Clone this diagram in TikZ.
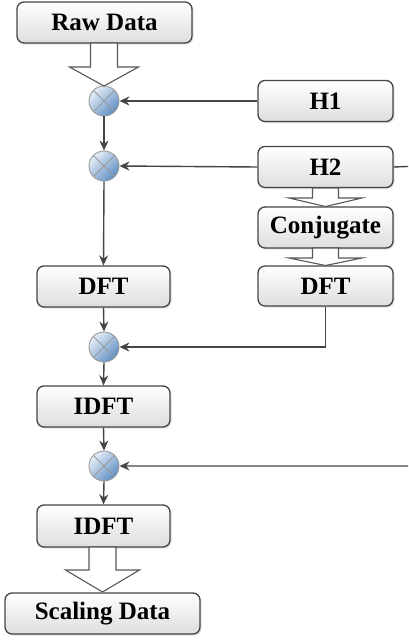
\documentclass[tikz,border=0pt]{standalone}
\usepackage{fontspec}
\setmainfont{Liberation Serif}
\usetikzlibrary{arrows.meta,shadows,calc}
\definecolor{edge}{HTML}{454545}
\definecolor{boxtop}{HTML}{FFFFFF}
\definecolor{boxbot}{HTML}{DEDEDE}
\definecolor{bluedark}{HTML}{5F8FC4}
\definecolor{bluelight}{HTML}{E6EEF7}
\tikzset{
  box/.style={draw=edge, line width=1.3pt, rounded corners=7pt,
    top color=boxtop, bottom color=boxbot,
    drop shadow={opacity=0.25, shadow xshift=1.5pt, shadow yshift=-1.5pt},
    inner sep=0pt, minimum height=41pt,
    font=\fontsize{25}{28}\selectfont\bfseries},
  mult/.style={circle, draw=edge!55, line width=0.9pt, minimum size=30pt, inner sep=0pt,
    shading=axis, left color=bluelight, right color=bluedark, shading angle=45},
  conn/.style={draw=edge, line width=1.4pt},
  arr/.style={conn, -{Stealth[length=10pt,width=9pt]}},
  blockarrow/.style={draw=edge!90, line width=1.1pt, fill=white, line join=miter},
}
\begin{document}
\begin{tikzpicture}[x=1pt,y=-1pt]
\path[use as bounding box] (0,0) rectangle (408,640);
\clip (0,0) rectangle (408,640);
% boxes
\node[box, minimum width=175pt] (raw) at (104.5,22.5) {Raw Data};
\node[box, minimum width=135pt] (h1) at (325.5,101) {H1};
\node[box, minimum width=135pt] (h2) at (325.5,167) {H2};
\node[box, minimum width=135pt] (conj) at (325.5,227.5) {Conjugate};
\node[box, minimum width=135pt, minimum height=40pt] (dftb) at (325.5,286) {DFT};
\node[box, minimum width=133pt] (dfta) at (103.5,286.5) {DFT};
\node[box, minimum width=133pt] (idfta) at (103.5,406.5) {IDFT};
\node[box, minimum width=133pt, minimum height=42pt] (idftb) at (103.5,526) {IDFT};
\node[box, minimum width=195pt] (scal) at (102.5,613.5) {Scaling Data};
% multipliers
\foreach \n/\y in {ma/101, mb/166, mc/347, md/466}{
  \node[mult] (\n) at (104,\y) {};
  \draw[edge!55, line width=0.8pt] (\n.north east) -- (\n.south west)
        (\n.north west) -- (\n.south east);
}
% block arrows
\draw[blockarrow] (90.5,43) -- (117.5,43) -- (117.5,67) -- (138.5,67) -- (104,86)
  -- (69.5,67) -- (90.5,67) -- cycle;
\draw[blockarrow] (312.5,188) -- (338.5,188) -- (338.5,198) -- (362,198) -- (325.5,206.5)
  -- (289,198) -- (312.5,198) -- cycle;
\draw[blockarrow] (312.5,248) -- (338.5,248) -- (338.5,258) -- (362,258) -- (325.5,265.5)
  -- (289,258) -- (312.5,258) -- cycle;
\draw[blockarrow] (89,547) -- (116,547) -- (116,570) -- (139.5,570) -- (102.5,592)
  -- (65.5,570) -- (89,570) -- cycle;
% connectors
\draw[arr] (h1.west) -- (ma.east);
\draw[arr] (h2.west) -- (mb.east);
\draw[arr] (ma.south) -- (mb.north);
\draw[arr] (mb.south) -- (dfta.north);
\draw[arr] (dfta.south) -- (mc.north);
\draw[arr] (mc.south) -- (idfta.north);
\draw[arr] (idfta.south) -- (md.north);
\draw[arr] (md.south) -- (idftb.north);
\draw[arr] (dftb.south) |- (mc.east);
\coordinate (outa) at (420,166);
\coordinate (outb) at (420,466);
\draw[arr] (h2.east) -- (outa) -- (outb) -- (md.east);
\end{tikzpicture}
\end{document}
